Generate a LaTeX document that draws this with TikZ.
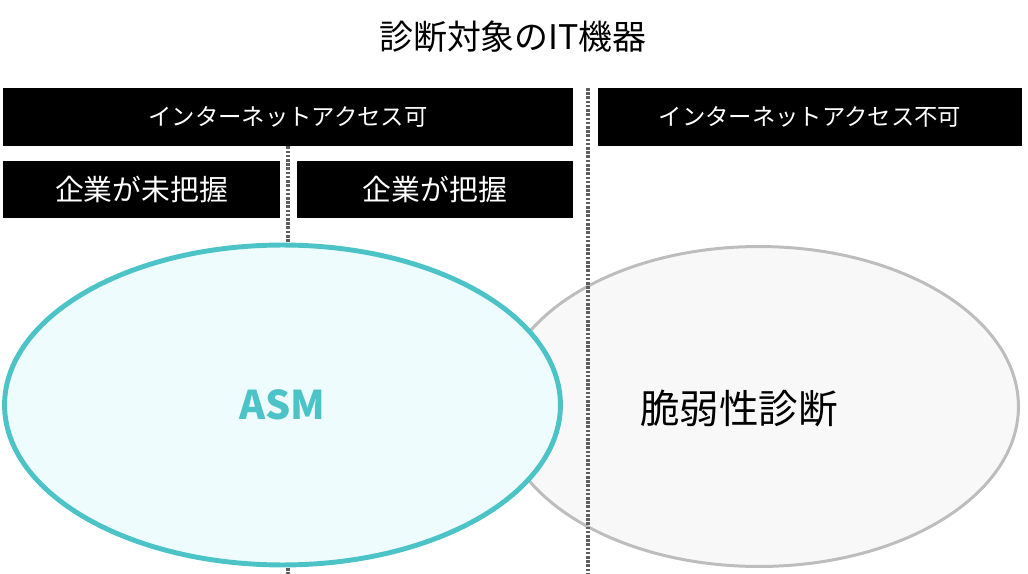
\documentclass[tikz,border=0pt]{standalone}
\usepackage{fontspec}
\setmainfont{Noto Sans CJK JP}
\usepackage{xcolor}
\usepackage{tikz}
\usetikzlibrary{positioning,shapes.geometric}

\definecolor{asmteal}{HTML}{4CC3C6}
\definecolor{asmfill}{HTML}{EEFCFD}
\definecolor{vulnline}{HTML}{BDBDBD}
\definecolor{vulnfill}{HTML}{F8F8F8}
\definecolor{divgray}{HTML}{5E5E5E}

\begin{document}
\begin{tikzpicture}[
    x=0.02cm, y=-0.02cm,
    bar/.style={fill=black, text=white, minimum height=1.16cm, inner sep=0pt, font=\fontsize{13.3}{15}\selectfont},
    subbar/.style={fill=black, text=white, minimum width=5.53cm, minimum height=1.14cm, inner sep=0pt, font=\fontsize{16.4}{19}\selectfont},
    asmzone/.style={ellipse, draw=asmteal, fill=asmfill, line width=2.8pt, minimum width=11.12cm, minimum height=6.4cm, inner sep=0pt, text=asmteal, font=\fontsize{22.5}{26}\selectfont\bfseries},
    vulnzone/.style={ellipse, draw=vulnline, fill=vulnfill, line width=1.7pt, minimum width=10.38cm, minimum height=6.4cm, inner sep=0pt},
    divider/.style={draw=divgray, line width=1.8pt, dash pattern=on 1.5pt off 0.9pt}
]
    \useasboundingbox (0,0) rectangle (1028,574);

    % Title
    \node[font=\fontsize{19.3}{22}\selectfont] (title) at (513,37) {診断対象のIT機器};

    % Access Bars
    \node[bar, minimum width=11.4cm] (access) at (288,117) {インターネットアクセス可};
    \node[bar, minimum width=8.48cm] (noaccess) at (810,117) {インターネットアクセス不可};
    \node[subbar] (unknown) at (141.5,189.5) {企業が未把握};
    \node[subbar] (known) at (435,189.5) {企業が把握};

    % Divider Ends
    \coordinate (midbottom) at (288,574);
    \coordinate (sidetop) at (588,88);
    \coordinate (sidebottom) at (588,574);

    % Scopes
    \node[vulnzone] (vuln) at (759,406.5) {};
    \node[font=\fontsize{22.5}{26}\selectfont] (vulnlabel) at (739,408) {脆弱性診断};
    \draw[divider] (access.south) -- (midbottom);
    \node[asmzone] (asm) at (282.5,405) {ASM};
    \draw[divider] (sidetop) -- (sidebottom);

\end{tikzpicture}
\end{document}
